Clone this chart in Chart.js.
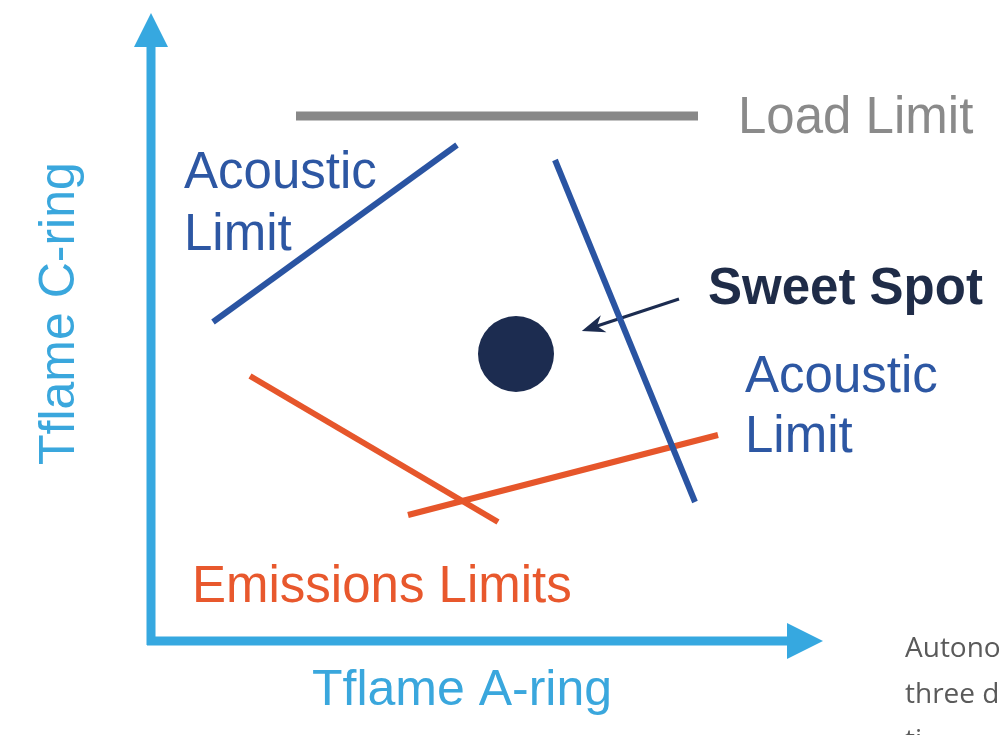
<!DOCTYPE html>
<html>
<head>
<meta charset="utf-8">
<title>Sweet Spot – Tflame operating limits</title>
<script src="https://cdn.jsdelivr.net/npm/chart.js@4.4.1/dist/chart.umd.min.js"></script>
<style>
  html, body { margin: 0; padding: 0; background: #ffffff; overflow: hidden; }
  #wrap { width: 1002px; height: 735px; position: relative; }
</style>
</head>
<body>
<div id="wrap"><canvas id="c" width="1002" height="735"></canvas></div>
<script>
// ---- Data (conceptual units: Tflame A-ring on x, Tflame C-ring on y, origin at the axes corner) ----
const axisA          = [[-4, 0], [636, 0]];          // Tflame A-ring axis shaft
const axisC          = [[0, -4], [0, 594]];          // Tflame C-ring axis shaft
const loadLimit      = [[145, 525], [547, 525]];
const acousticLeft   = [[62, 319], [306, 496]];
const acousticRight  = [[404, 481], [544, 139]];
const emissionsA     = [[99, 265], [347, 119]];
const emissionsB     = [[257, 126], [567, 206]];
const sweetSpot      = [[365, 287]];
const sweetPointer   = [[528, 342], [446, 315]];

const xRange = [-151, 851];
const yRange = [-94, 641];

// ---- Labels ----
const labelTexts = {
  load: 'Load Limit',
  acoustic: ['Acoustic', 'Limit'],
  sweet: 'Sweet Spot',
  emissions: 'Emissions Limits',
  xTitle: 'Tflame A-ring',
  yTitle: 'Tflame C-ring',
  note: ['Autono', 'three d', 'ti']
};

const toXY = arr => arr.map(p => ({ x: p[0], y: p[1] }));

const C = {
  axis: '#36a8e0',
  blue: '#2a54a2',
  orange: '#e6562b',
  gray: '#888888',
  navy: '#1c2c50'
};

const FONT = '"Liberation Sans", Arial, Helvetica, sans-serif';

const annotations = [
  { text: labelTexts.load, at: [587, 508], color: '#8a8a8a', font: '51px ' + FONT },
  { text: labelTexts.acoustic, at: [33, 453], color: '#2d57a3', font: '51px ' + FONT, lineH: 62 },
  { text: labelTexts.sweet, at: [557, 337], color: '#1f2c48', font: 'bold 51px ' + FONT },
  { text: labelTexts.acoustic, at: [594, 249], color: '#2d57a3', font: '51px ' + FONT, lineH: 60 },
  { text: labelTexts.emissions, at: [41, 39], color: '#e8582d', font: '51px ' + FONT },
  { text: labelTexts.xTitle, at: [161, -64], color: '#3aa7dd', font: '50px ' + FONT },
  { text: labelTexts.yTitle, at: [-77, 176], color: '#3aa7dd', font: '50px ' + FONT, rotate: -Math.PI / 2 },
  { text: labelTexts.note, at: [754, -16], color: '#5a5a5a', font: '28px "Open Sans", "DejaVu Sans", sans-serif', lineH: 46 }
];

function seg(data, color, width, extra) {
  return Object.assign({
    data: toXY(data),
    showLine: true,
    borderColor: color,
    backgroundColor: color,
    borderWidth: width,
    borderCapStyle: 'butt',
    pointRadius: 0,
    pointHoverRadius: 0,
    tension: 0
  }, extra || {});
}

const arrowHeads = {
  id: 'arrowHeads',
  afterDatasetsDraw(chart) {
    const ctx = chart.ctx;
    chart.data.datasets.forEach((ds, i) => {
      if (!ds.arrowHead) return;
      const pts = chart.getDatasetMeta(i).data;
      const a = pts[pts.length - 2], b = pts[pts.length - 1];
      const dx = b.x - a.x, dy = b.y - a.y, len = Math.hypot(dx, dy);
      const ux = dx / len, uy = dy / len, nx = -uy, ny = ux;
      const h = ds.arrowHead;
      ctx.save();
      ctx.fillStyle = ds.borderColor;
      ctx.beginPath();
      ctx.moveTo(b.x + ux * h.length, b.y + uy * h.length);
      ctx.lineTo(b.x - ux * h.notch + nx * h.halfWidth, b.y - uy * h.notch + ny * h.halfWidth);
      ctx.lineTo(b.x, b.y);
      ctx.lineTo(b.x - ux * h.notch - nx * h.halfWidth, b.y - uy * h.notch - ny * h.halfWidth);
      ctx.closePath();
      ctx.fill();
      ctx.restore();
    });
  }
};

const textLabels = {
  id: 'textLabels',
  afterDraw(chart) {
    const ctx = chart.ctx;
    const sx = chart.scales.x, sy = chart.scales.y;
    annotations.forEach(a => {
      const px = sx.getPixelForValue(a.at[0]);
      const py = sy.getPixelForValue(a.at[1]);
      const lines = Array.isArray(a.text) ? a.text : [a.text];
      ctx.save();
      ctx.translate(px, py);
      if (a.rotate) ctx.rotate(a.rotate);
      ctx.font = a.font;
      ctx.fillStyle = a.color;
      ctx.textAlign = 'left';
      ctx.textBaseline = 'alphabetic';
      lines.forEach((t, k) => ctx.fillText(t, 0, k * (a.lineH || 0)));
      ctx.restore();
    });
  }
};

new Chart(document.getElementById('c'), {
  type: 'scatter',
  data: {
    datasets: [
      seg(axisA, C.axis, 9, { label: 'Tflame A-ring', arrowHead: { length: 36, halfWidth: 18, notch: 0 } }),
      seg(axisC, C.axis, 9, { label: 'Tflame C-ring', arrowHead: { length: 34, halfWidth: 17, notch: 0 } }),
      seg(loadLimit, C.gray, 9, { label: 'Load Limit' }),
      seg(acousticLeft, C.blue, 6, { label: 'Acoustic Limit' }),
      seg(acousticRight, C.blue, 6, { label: 'Acoustic Limit' }),
      seg(emissionsA, C.orange, 6, { label: 'Emissions Limits' }),
      seg(emissionsB, C.orange, 6, { label: 'Emissions Limits' }),
      seg(sweetPointer, C.navy, 3, { label: 'pointer', arrowHead: { length: 16, halfWidth: 9, notch: 7 } }),
      {
        label: 'Sweet Spot',
        data: toXY(sweetSpot),
        pointRadius: 38,
        pointHoverRadius: 38,
        backgroundColor: C.navy,
        borderColor: C.navy,
        borderWidth: 0,
        showLine: false
      }
    ]
  },
  options: {
    responsive: false,
    animation: false,
    events: [],
    layout: { padding: 0, autoPadding: false },
    plugins: { legend: { display: false }, tooltip: { enabled: false } },
    scales: {
      x: { type: 'linear', display: false, min: xRange[0], max: xRange[1] },
      y: { type: 'linear', display: false, min: yRange[0], max: yRange[1] }
    }
  },
  plugins: [arrowHeads, textLabels]
});
</script>
</body>
</html>
